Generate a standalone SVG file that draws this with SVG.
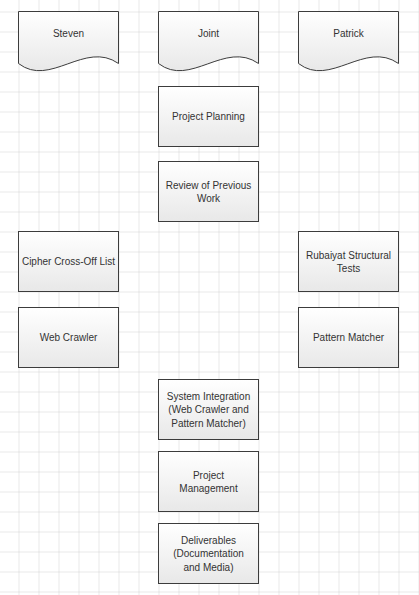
<svg xmlns="http://www.w3.org/2000/svg" width="419" height="595" viewBox="0 0 419 595">
<defs>
<linearGradient id="fillG" x1="0" y1="0" x2="0" y2="1">
<stop offset="0" stop-color="#ffffff"/>
<stop offset="1" stop-color="#e8e8e8"/>
</linearGradient>
<pattern id="grid" x="18.5" y="11.5" width="20" height="20" patternUnits="userSpaceOnUse">
<path d="M0,0 H20 M0,0 V20" fill="none" stroke="#d2d2d2" stroke-width="1"/>
</pattern>
</defs>
<style>
.box{fill:url(#fillG);stroke:#3c3c3c;stroke-width:1}
text{font-family:"Liberation Sans",Arial,sans-serif;font-size:10px;fill:#333;text-anchor:middle}
</style>
<rect x="0" y="0" width="419" height="595" fill="#fff"/>
<rect x="0" y="0" width="419" height="595" fill="url(#grid)"/>
<g id="connectors"></g>
<g id="steven">
<path class="box" d="M18.5,11.5 H118.5 V63.5 C85,40 50,88 18.5,63.5 Z"/>
<text x="68.5" y="37">Steven</text>
</g>
<g id="joint">
<path class="box" d="M158.5,11.5 H258.5 V63.5 C225,40 190,88 158.5,63.5 Z"/>
<text x="208.5" y="37">Joint</text>
</g>
<g id="patrick">
<path class="box" d="M298.5,11.5 H398.5 V63.5 C365,40 330,88 298.5,63.5 Z"/>
<text x="348.5" y="37">Patrick</text>
</g>
<g id="project-planning">
<rect class="box" x="158.5" y="86.5" width="100" height="60"/>
<text x="208.5" y="120">Project Planning</text>
</g>
<g id="review">
<rect class="box" x="158.5" y="161.5" width="100" height="60"/>
<text x="208.5" y="188.5">Review of Previous</text>
<text x="208.5" y="202">Work</text>
</g>
<g id="cipher">
<rect class="box" x="18.5" y="231.5" width="100" height="60"/>
<text x="68.5" y="265">Cipher Cross-Off List</text>
</g>
<g id="web-crawler">
<rect class="box" x="18.5" y="307.5" width="100" height="60"/>
<text x="68.5" y="341">Web Crawler</text>
</g>
<g id="rubaiyat">
<rect class="box" x="298.5" y="231.5" width="100" height="60"/>
<text x="348.5" y="258.5">Rubaiyat Structural</text>
<text x="348.5" y="272">Tests</text>
</g>
<g id="pattern-matcher">
<rect class="box" x="298.5" y="307.5" width="100" height="60"/>
<text x="348.5" y="341">Pattern Matcher</text>
</g>
<g id="system-integration">
<rect class="box" x="158.5" y="379.5" width="100" height="60"/>
<text x="208.5" y="399.5">System Integration</text>
<text x="208.5" y="413">(Web Crawler and</text>
<text x="208.5" y="426.5">Pattern Matcher)</text>
</g>
<g id="project-management">
<rect class="box" x="158.5" y="451.5" width="100" height="60"/>
<text x="208.5" y="478.5">Project</text>
<text x="208.5" y="492">Management</text>
</g>
<g id="deliverables">
<rect class="box" x="158.5" y="523.5" width="100" height="60"/>
<text x="208.5" y="543.5">Deliverables</text>
<text x="208.5" y="557">(Documentation</text>
<text x="208.5" y="570.5">and Media)</text>
</g>
</svg>
